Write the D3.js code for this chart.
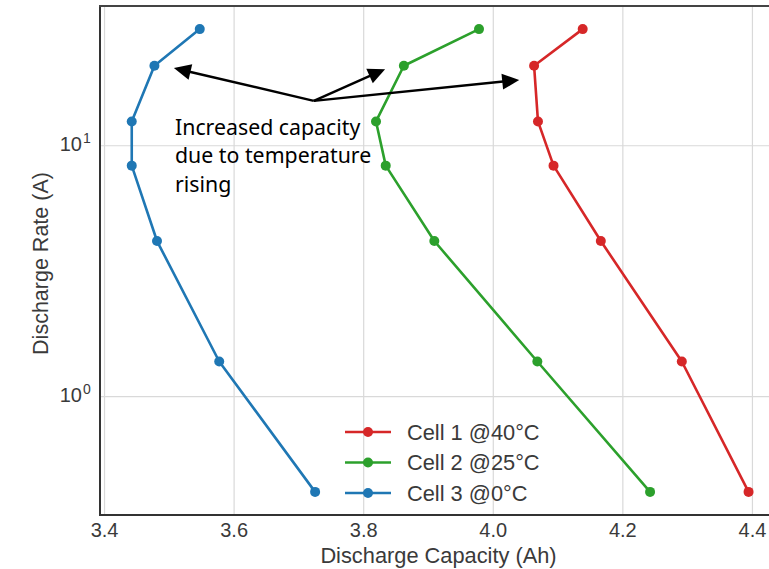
<!DOCTYPE html>
<html><head><meta charset="utf-8">
<script src="https://cdn.jsdelivr.net/npm/d3@7"></script>
<style>body{margin:0;background:#fff;overflow:hidden}</style>
</head><body><svg id="c" width="769" height="569"></svg>
<script>
// ---- data ----
const rates = [29.17, 20.83, 12.5, 8.33, 4.17, 1.38, 0.417];
const cell1 = [4.138, 4.063, 4.069, 4.093, 4.166, 4.291, 4.394];
const cell2 = [3.978, 3.862, 3.819, 3.834, 3.909, 4.068, 4.242];
const cell3 = [3.547, 3.477, 3.442, 3.442, 3.481, 3.577, 3.725];
const seriesNames = ["Cell 1 @40°C", "Cell 2 @25°C", "Cell 3 @0°C"];
const seriesColors = ["#d62728", "#2ca02c", "#1f77b4"];
const xTicks = [3.4, 3.6, 3.8, 4.0, 4.2, 4.4];
const yTicks = [1, 10];
const yTickExp = ["0", "1"];
const xLimits = [3.393, 4.441];
const yLimits = [0.3373, 36.06];
const annotationLines = ["Increased capacity", "due to temperature", "rising"];
const annotationText = [3.5088, 11.04];
const annotationOrigin = [3.723, 15.1];
const annotationTargets = [[3.507, 20.4], [3.833, 20.2], [4.040, 18.3]];

// ---- layout ----
const L = 100, R = 779, T = 6, B = 515;
const svg = d3.select("#c");
const x = d3.scaleLinear().domain(xLimits).range([L, R]);
const y = d3.scaleLog().domain(yLimits).range([B, T]);
const series = [cell1, cell2, cell3].map((caps, i) => ({
  name: seriesNames[i], color: seriesColors[i],
  pts: caps.map((c, j) => [c, rates[j]])
}));

// grid
const g = svg.append("g");
g.selectAll(".gx").data(xTicks).join("line")
  .attr("x1", d => x(d)).attr("x2", d => x(d)).attr("y1", T).attr("y2", B)
  .attr("stroke", "#d9d9d9").attr("stroke-width", 1.2);
g.selectAll(".gy").data(yTicks).join("line")
  .attr("x1", L).attr("x2", R).attr("y1", d => y(d)).attr("y2", d => y(d))
  .attr("stroke", "#d9d9d9").attr("stroke-width", 1.2);

// series
const line = d3.line().x(d => x(d[0])).y(d => y(d[1]));
series.forEach(s => {
  svg.append("path").attr("d", line(s.pts)).attr("fill", "none")
    .attr("stroke", s.color).attr("stroke-width", 2.6).attr("stroke-linejoin", "round");
  svg.selectAll(null).data(s.pts).join("circle")
    .attr("cx", d => x(d[0])).attr("cy", d => y(d[1])).attr("r", 5)
    .attr("fill", s.color);
});

// spines
svg.append("line").attr("x1", L).attr("x2", L).attr("y1", T).attr("y2", B)
  .attr("stroke", "#333").attr("stroke-width", 2);
svg.append("line").attr("x1", L - 1).attr("x2", R).attr("y1", B).attr("y2", B)
  .attr("stroke", "#333").attr("stroke-width", 2);
svg.append("line").attr("x1", L - 1).attr("x2", R).attr("y1", T).attr("y2", T)
  .attr("stroke", "#444").attr("stroke-width", 2);

const FONT = "'Liberation Sans', Arial, sans-serif";
// x tick labels
svg.selectAll(".xt").data(xTicks).join("text")
  .attr("x", d => x(d)).attr("y", 537).attr("text-anchor", "middle")
  .attr("font-family", FONT).attr("font-size", 20).attr("fill", "#3a3a3a")
  .text(d => d.toFixed(1));
// y tick labels
yTicks.forEach((t, i) => {
  svg.append("text").attr("x", 82).attr("y", y(t) + 5).attr("text-anchor", "end")
    .attr("font-family", FONT).attr("font-size", 20).attr("fill", "#3a3a3a").text("10");
  svg.append("text").attr("x", 83).attr("y", y(t) - 3).attr("text-anchor", "start")
    .attr("font-family", FONT).attr("font-size", 14).attr("fill", "#3a3a3a").text(yTickExp[i]);
});
// axis labels
svg.append("text").attr("x", (L + R) / 2 - 1).attr("y", 563).attr("text-anchor", "middle")
  .attr("font-family", FONT).attr("font-size", 21.8).attr("fill", "#3a3a3a")
  .text("Discharge Capacity (Ah)");
svg.append("text").attr("transform", `translate(48,${(T + B) / 2 + 3}) rotate(-90)`)
  .attr("text-anchor", "middle")
  .attr("font-family", FONT).attr("font-size", 21.5).attr("fill", "#3a3a3a")
  .text("Discharge Rate (A)");

// legend
series.forEach((s, i) => {
  const ly = 432 + i * 30.5;
  svg.append("line").attr("x1", 345).attr("x2", 391).attr("y1", ly).attr("y2", ly)
    .attr("stroke", s.color).attr("stroke-width", 2.6);
  svg.append("circle").attr("cx", 368).attr("cy", ly).attr("r", 5).attr("fill", s.color);
  svg.append("text").attr("x", 407).attr("y", ly + 7.5)
    .attr("font-family", FONT).attr("font-size", 21.8).attr("fill", "#3a3a3a").text(s.name);
});

// annotation
const ox = x(annotationOrigin[0]), oy = y(annotationOrigin[1]);
annotationTargets.forEach(tg => {
  const tx = x(tg[0]), ty = y(tg[1]);
  const dx = tx - ox, dy = ty - oy, len = Math.hypot(dx, dy);
  const ux = dx / len, uy = dy / len, hl = 17, hw = 8;
  const bx = tx - ux * hl, by = ty - uy * hl;
  svg.append("line").attr("x1", ox).attr("y1", oy).attr("x2", bx + ux).attr("y2", by + uy)
    .attr("stroke", "#000").attr("stroke-width", 2.4);
  svg.append("path")
    .attr("d", `M${tx},${ty}L${bx - uy * hw},${by + ux * hw}L${bx + uy * hw},${by - ux * hw}Z`)
    .attr("fill", "#000");
});
const at = svg.append("text").attr("font-family", "'Noto Sans', sans-serif")
  .attr("font-size", 21.3).attr("fill", "#000");
annotationLines.forEach((ln, i) => {
  at.append("tspan").attr("x", x(annotationText[0])).attr("y", y(annotationText[1]) + i * 28.5).text(ln);
});
</script></body></html>
